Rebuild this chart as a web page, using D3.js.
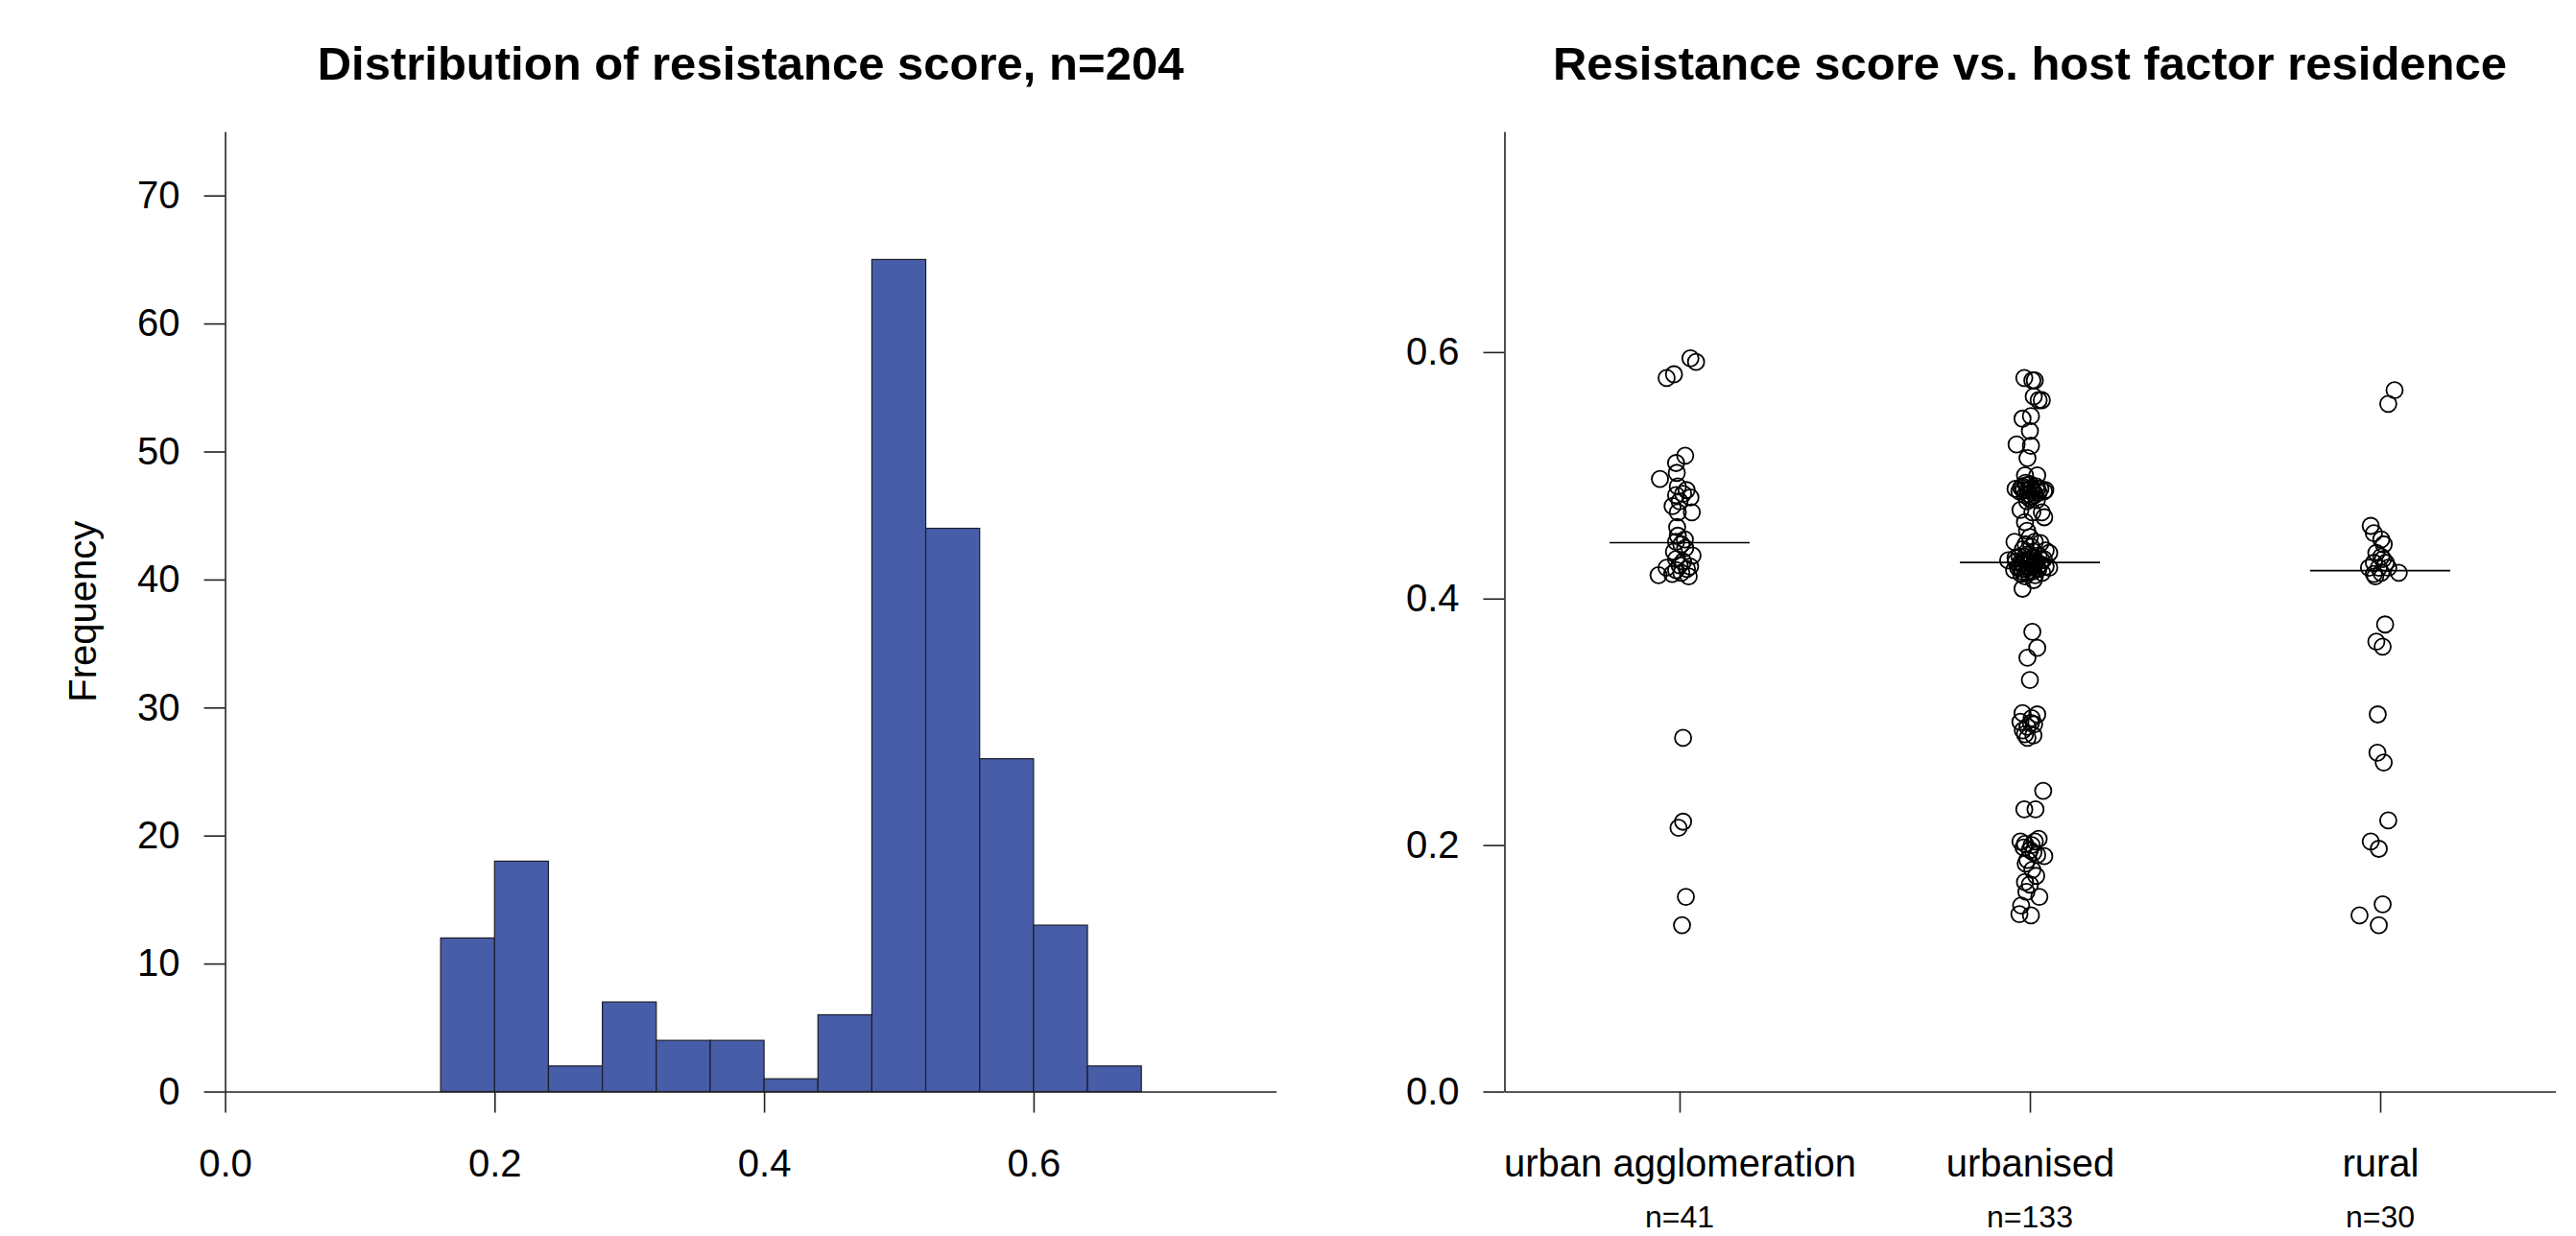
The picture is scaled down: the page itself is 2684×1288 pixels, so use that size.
<!DOCTYPE html>
<html>
<head>
<meta charset="utf-8">
<script src="https://cdn.jsdelivr.net/npm/d3@7"></script>
<style>
	body { margin: 0; background: #fff; }
	svg { display: block; font-family: "Liberation Sans", Arial, Helvetica, sans-serif; }
</style>
</head>
<body>
<div class="c-svg"></div>
<script>

//DATA
//-------------------------------------------------------------------------

//histogram bins (left edges + last right edge) and counts
const binEdges = [0.16, 0.20, 0.24, 0.28, 0.32, 0.36, 0.40, 0.44, 0.48, 0.52, 0.56, 0.60, 0.64, 0.68];
const binCounts = [12, 18, 2, 7, 4, 4, 1, 6, 65, 44, 26, 13, 2];
const histTicksX = [0, 0.2, 0.4, 0.6];
const histTicksY = [0, 10, 20, 30, 40, 50, 60, 70];

//strip chart groups
const groups = ["urban agglomeration", "urbanised", "rural"];
const groupN = ["n=41", "n=133", "n=30"];
const groupCentre = [0.4454, 0.4293, 0.4227];
const stripTicksY = [0, 0.2, 0.4, 0.6];

//[score, horizontal jitter in group units]
const urbanAgglomeration = [
	[0.595, 0.031], [0.592, 0.047], [0.579, -0.037], [0.582, -0.016], [0.516, 0.016],
	[0.510, -0.010], [0.497, -0.056], [0.502, -0.008], [0.491, -0.005], [0.485, 0.010],
	[0.484, -0.010], [0.482, 0.031], [0.479, 0.000], [0.470, 0.035], [0.470, -0.005],
	[0.458, -0.007], [0.446, -0.010], [0.444, 0.005], [0.438, -0.016], [0.435, 0.037],
	[0.441, 0.016], [0.419, -0.060], [0.425, -0.037], [0.423, -0.010], [0.421, 0.005],
	[0.424, 0.021], [0.418, 0.026], [0.427, 0.000], [0.420, -0.021], [0.287, 0.010],
	[0.219, 0.010], [0.214, -0.003], [0.158, 0.018], [0.135, 0.007], [0.488, 0.020],
	[0.475, -0.020], [0.448, 0.015], [0.432, -0.010], [0.426, 0.030], [0.430, 0.010],
	[0.451, -0.005]
];

const urbanised = [
	[0.579, -0.016], [0.577, 0.007], [0.577, 0.014], [0.564, 0.011], [0.561, 0.025],
	[0.561, 0.034], [0.546, -0.021], [0.548, 0.003], [0.536, 0.000], [0.524, 0.003],
	[0.525, -0.038], [0.514, -0.007], [0.500, -0.014], [0.500, 0.021], [0.489, -0.041],
	[0.491, -0.021], [0.488, -0.007], [0.487, 0.007], [0.489, 0.021], [0.488, 0.044],
	[0.484, -0.014], [0.481, 0.000], [0.484, 0.014], [0.472, -0.027], [0.470, 0.007],
	[0.470, 0.034], [0.466, 0.041], [0.462, -0.014], [0.446, -0.044], [0.450, 0.000],
	[0.446, 0.014], [0.437, 0.055], [0.431, -0.062], [0.433, -0.041], [0.429, -0.027],
	[0.434, -0.014], [0.432, 0.000], [0.429, 0.014], [0.431, 0.034], [0.425, -0.034],
	[0.422, -0.021], [0.423, 0.000], [0.425, 0.021], [0.425, 0.055], [0.418, -0.014],
	[0.415, 0.011], [0.408, -0.021], [0.373, 0.007], [0.360, 0.021], [0.352, -0.007],
	[0.334, 0.000], [0.307, -0.021], [0.306, 0.021], [0.300, -0.027], [0.296, -0.007],
	[0.299, 0.003], [0.290, -0.014], [0.287, -0.007], [0.244, 0.038], [0.229, -0.016],
	[0.229, 0.016], [0.203, -0.027], [0.201, -0.014], [0.203, 0.014], [0.196, 0.000],
	[0.192, 0.021], [0.191, 0.041], [0.188, -0.007], [0.180, 0.007], [0.170, -0.014],
	[0.168, 0.000], [0.158, 0.027], [0.151, -0.025], [0.144, -0.030], [0.143, 0.003],
	[0.492, -0.010], [0.490, 0.005], [0.489, 0.030], [0.487, -0.030], [0.486, 0.012],
	[0.485, -0.005], [0.491, 0.018], [0.488, -0.018], [0.493, 0.000], [0.486, 0.025],
	[0.490, -0.025], [0.483, 0.005], [0.487, 0.040], [0.494, -0.012], [0.480, 0.020],
	[0.479, -0.008], [0.440, -0.020], [0.438, 0.010], [0.436, -0.005], [0.435, 0.025],
	[0.434, -0.030], [0.433, 0.005], [0.432, 0.040], [0.431, -0.012], [0.430, 0.018],
	[0.430, -0.040], [0.429, 0.002], [0.428, -0.022], [0.428, 0.030], [0.427, -0.008],
	[0.427, 0.012], [0.426, -0.030], [0.426, 0.045], [0.425, 0.000], [0.424, -0.015],
	[0.424, 0.024], [0.423, -0.045], [0.422, 0.008], [0.421, -0.006], [0.421, 0.035],
	[0.420, -0.025], [0.419, 0.015], [0.442, 0.004], [0.444, -0.012], [0.445, 0.030],
	[0.439, 0.045], [0.298, 0.012], [0.293, -0.020], [0.303, 0.005], [0.289, 0.010],
	[0.200, 0.005], [0.198, -0.018], [0.205, 0.025], [0.194, 0.010], [0.185, -0.012],
	[0.175, 0.018], [0.162, -0.010], [0.455, -0.008]
];

const rural = [
	[0.569, 0.041], [0.558, 0.023], [0.459, -0.027], [0.453, -0.018], [0.448, 0.003],
	[0.444, 0.010], [0.437, -0.011], [0.434, 0.003], [0.429, -0.018], [0.429, 0.016],
	[0.425, -0.032], [0.425, -0.004], [0.425, 0.023], [0.420, -0.018], [0.421, 0.003],
	[0.421, 0.053], [0.418, -0.014], [0.379, 0.014], [0.365, -0.011], [0.361, 0.007],
	[0.306, -0.007], [0.275, -0.008], [0.267, 0.010], [0.220, 0.023], [0.203, -0.027],
	[0.197, -0.004], [0.152, 0.007], [0.143, -0.059], [0.135, -0.004], [0.432, 0.008]
];

const groupPoints = [urbanAgglomeration, urbanised, rural];


//INITIALISATION
//-------------------------------------------------------------------------

const opts = {
	width: 2684,
	height: 1288,
	top: 137,
	bottom: 1137.5,
	tick: 22,
	fontSize: 40,
	titleSize: 49,
	lineColor: "#222",
	barColor: "#485da8"
};

const svg = d3.select(".c-svg")
	.append("svg")
	.attr("width", opts.width)
	.attr("height", opts.height);

svg.append("rect")
	.attr("width", opts.width)
	.attr("height", opts.height)
	.attr("fill", "#fff");

function styleAxis(sel){
	sel.attr("font-size", opts.fontSize)
		.attr("font-family", null)
		.style("color", opts.lineColor);
	sel.selectAll("path, line").attr("stroke-width", 1.6);
	sel.selectAll("text").attr("fill", "#000");
}


//HISTOGRAM (left)
//-------------------------------------------------------------------------

const hx = d3.scaleLinear()
	.domain([0, 0.78])
	.range([234.5, 1329.6]);

const hy = d3.scaleLinear()
	.domain([0, 75])
	.range([opts.bottom, opts.top]);

const hist = svg.append("g").attr("class", "hist");

hist.selectAll("rect.bar")
	.data(binCounts)
	.join("rect")
	.attr("class", "bar")
	.attr("x", (d, i)=>{ return hx(binEdges[i]); })
	.attr("width", (d, i)=>{ return hx(binEdges[i + 1]) - hx(binEdges[i]); })
	.attr("y", (d)=>{ return hy(d); })
	.attr("height", (d)=>{ return hy(0) - hy(d); })
	.attr("fill", opts.barColor)
	.attr("stroke", "#1c1c2a")
	.attr("stroke-width", 1.2);

hist.append("g")
	.attr("transform", `translate(0 ${opts.bottom})`)
	.call(d3.axisBottom(hx).tickValues(histTicksX).tickFormat(d3.format(".1f"))
		.tickSize(opts.tick).tickSizeOuter(0).tickPadding(38))
	.call(styleAxis);

hist.append("g")
	.attr("transform", `translate(${hx(0)} 0)`)
	.call(d3.axisLeft(hy).tickValues(histTicksY).tickFormat(d3.format("d"))
		.tickSize(opts.tick).tickSizeOuter(0).tickPadding(25))
	.call(styleAxis);

hist.append("text")
	.attr("transform", `translate(100 ${(opts.top + opts.bottom) / 2}) rotate(-90)`)
	.attr("text-anchor", "middle")
	.attr("font-size", opts.fontSize)
	.text("Frequency");

hist.append("text")
	.attr("x", (hx.range()[0] + hx.range()[1]) / 2)
	.attr("y", 83)
	.attr("text-anchor", "middle")
	.attr("font-size", opts.titleSize)
	.attr("font-weight", "bold")
	.text("Distribution of resistance score, n=204");


//STRIP CHART (right)
//-------------------------------------------------------------------------

const sx = d3.scaleLinear()
	.domain([0.5, 3.5])
	.range([1567.5, 2662.5]);

const sy = d3.scaleLinear()
	.domain([0, 0.779])
	.range([opts.bottom, opts.top]);

const strip = svg.append("g").attr("class", "strip");

strip.append("g")
	.attr("transform", `translate(0 ${opts.bottom})`)
	.call(d3.axisBottom(sx).tickValues([1, 2, 3]).tickFormat((d)=>{ return groups[d - 1]; })
		.tickSize(opts.tick).tickSizeOuter(0).tickPadding(38))
	.call(styleAxis);

strip.append("g")
	.attr("transform", `translate(${sx(0.5)} 0)`)
	.call(d3.axisLeft(sy).tickValues(stripTicksY).tickFormat(d3.format(".1f"))
		.tickSize(opts.tick).tickSizeOuter(0).tickPadding(25))
	.call(styleAxis);

//group sizes under labels
strip.selectAll("text.n")
	.data(groupN)
	.join("text")
	.attr("class", "n")
	.attr("x", (d, i)=>{ return sx(i + 1); })
	.attr("y", 1279)
	.attr("text-anchor", "middle")
	.attr("font-size", 32)
	.text((d)=>{ return d; });

//points
groupPoints.forEach((pts, gi)=>{
	strip.append("g")
		.selectAll("circle")
		.data(pts)
		.join("circle")
		.attr("cx", (d)=>{ return sx(gi + 1 + d[1]); })
		.attr("cy", (d)=>{ return sy(d[0]); })
		.attr("r", 8.5)
		.attr("fill", "none")
		.attr("stroke", "#000")
		.attr("stroke-width", 1.8);
});

//centre lines
strip.selectAll("line.centre")
	.data(groupCentre)
	.join("line")
	.attr("class", "centre")
	.attr("x1", (d, i)=>{ return sx(i + 1 - 0.2); })
	.attr("x2", (d, i)=>{ return sx(i + 1 + 0.2); })
	.attr("y1", (d)=>{ return sy(d); })
	.attr("y2", (d)=>{ return sy(d); })
	.attr("stroke", "#000")
	.attr("stroke-width", 1.6);

strip.append("text")
	.attr("x", sx(2))
	.attr("y", 83)
	.attr("text-anchor", "middle")
	.attr("font-size", opts.titleSize)
	.attr("font-weight", "bold")
	.text("Resistance score vs. host factor residence");

</script>
</body>
</html>
